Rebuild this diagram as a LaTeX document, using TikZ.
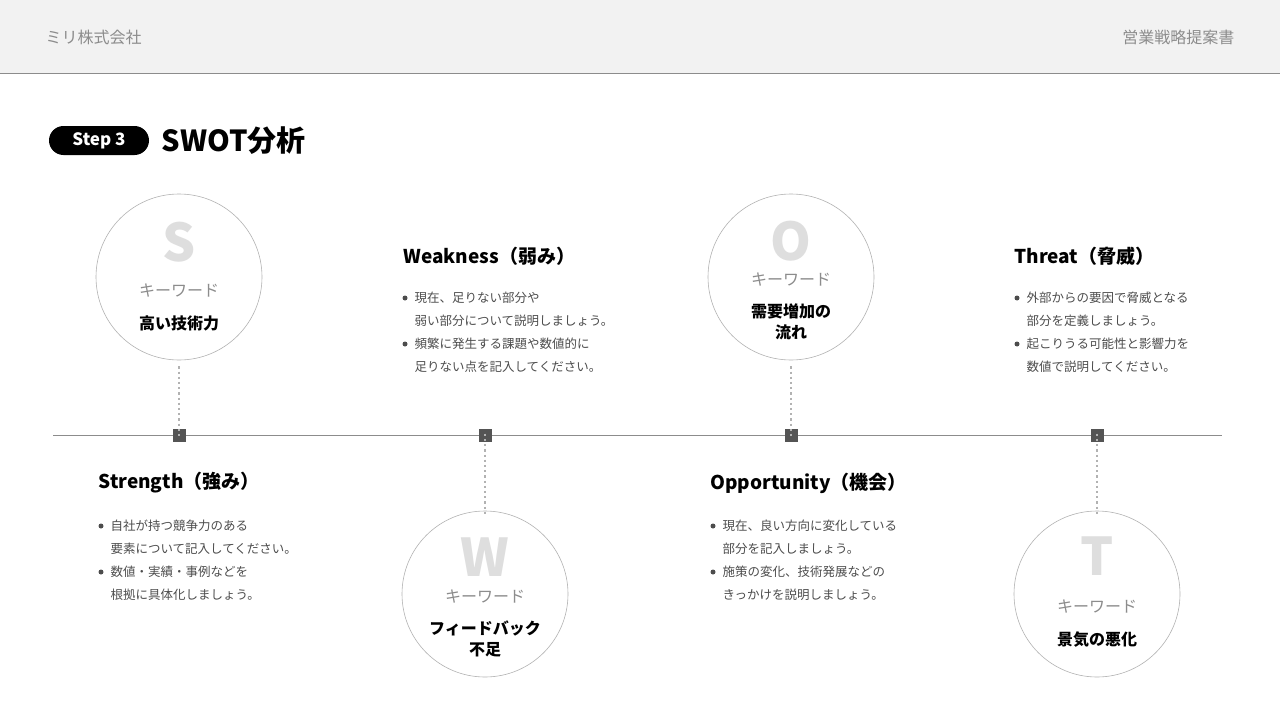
\documentclass[tikz,border=0pt]{standalone}
\usepackage{fontspec}
\setmainfont{Noto Sans CJK JP}
\newfontfamily\jpb{Noto Sans CJK JP}[BoldFont={* Bold}]
\begin{document}
\begin{tikzpicture}[x=1pt,y=-1pt,
  circ/.style={circle,draw=black!30,line width=0.6pt,fill=white,minimum size=166pt,inner sep=0pt},
  sq/.style={fill=black!67,minimum size=13pt,inner sep=0pt},
  big/.style={text=black!13,font=\fontsize{52}{52}\selectfont\bfseries},
  kw/.style={text=black!45,font=\fontsize{16}{16}\selectfont},
  kwb/.style={text=black,font=\fontsize{16}{21}\selectfont\bfseries,align=center},
  ttl/.style={anchor=west,font=\fontsize{19}{19}\selectfont\bfseries},
  bt/.style={anchor=west,text=black!70,font=\fontsize{12.5}{12.5}\selectfont},
  dot/.style={circle,fill=black!70,inner sep=0pt,minimum size=5pt},
  dl/.style={black!30,line width=2.2pt,dash pattern=on 2.2pt off 3pt}]
\useasboundingbox (0,0) rectangle (1280,720);
\fill[black!5] (0,0) rectangle (1280,73);
\draw[black!45,line width=0.8pt] (0,73) -- (1280,73);
\node[anchor=west,text=black!45,font=\fontsize{16}{16}\selectfont] (co) at (42,37) {ミリ株式会社};
\node[anchor=east,text=black!45,font=\fontsize{16}{16}\selectfont] (doc) at (1238,37) {営業戦略提案書};
\node[fill=black,rounded corners=14.5pt,minimum width=100pt,minimum height=29pt,text=white,font=\fontsize{17}{17}\selectfont\bfseries] (step) at (99,140.5) {Step 3};
\node[anchor=west,font=\fontsize{29}{29}\selectfont\bfseries] (title) at (158,141) {SWOT分析};
\coordinate (L) at (53,435); \coordinate (R) at (1222,435);
\draw[black!45,line width=1pt] (L) -- (R);
\foreach \n/\x in {s/179,w/485,o/791,t/1097} \node[sq] (q\n) at (\x,435) {};
\node[circ] (cs) at (179,277) {};
\node[circ] (cw) at (485,594) {};
\node[circ] (co2) at (791,277) {};
\node[circ] (ct) at (1097,594) {};
\draw[dl] (cs.south) ++(0,6) -- ([yshift=-8pt]qs.north);
\draw[dl] (co2.south) ++(0,6) -- ([yshift=-8pt]qo.north);
\draw[dl] ([yshift=8pt]qw.south) -- ([yshift=-6pt]cw.north);
\draw[dl] ([yshift=8pt]qt.south) -- ([yshift=-6pt]ct.north);
% S
\node[big] (ls) at (179,242) {S};
\node[kw] (ks) at (179,291) {キーワード};
\node[kwb] (bs) at (179,323) {高い技術力};
% W
\node[big] (lw) at (485,557) {W};
\node[kw] (kw2) at (485,597) {キーワード};
\node[kwb] (bw) at (485,639) {フィードバック\\不足};
% O
\node[big] (lo) at (791,241) {O};
\node[kw] (ko) at (791,280) {キーワード};
\node[kwb] (bo) at (791,322) {需要増加の\\流れ};
% T
\node[big] (lt) at (1097,556) {T};
\node[kw] (kt) at (1097,607) {キーワード};
\node[kwb] (bt2) at (1097,640) {景気の悪化};
% texts
\node[ttl] (ws) at (400,256) {Weakness（弱み）};
\node[ttl] (ss) at (95,483) {Strength（強み）};
\node[ttl] (os) at (707,483) {Opportunity（機会）};
\node[ttl] (ts) at (1011,256) {Threat（脅威）};
\foreach \x/\y/\a/\b/\c/\d in {
 405/298/{現在、足りない部分や}/{弱い部分について説明しましょう。}/{頻繁に発生する課題や数値的に}/{足りない点を記入してください。},
 101/526/{自社が持つ競争力のある}/{要素について記入してください。}/{数値・実績・事例などを}/{根拠に具体化しましょう。},
 713/526/{現在、良い方向に変化している}/{部分を記入しましょう。}/{施策の変化、技術発展などの}/{きっかけを説明しましょう。},
 1017/298/{外部からの要因で脅威となる}/{部分を定義しましょう。}/{起こりうる可能性と影響力を}/{数値で説明してください。}}{
  \node[dot] at (\x,\y) {};
  \node[bt] at (\x+6,\y) {\a};
  \node[bt] at (\x+6,\y+23) {\b};
  \node[dot] at (\x,\y+46) {};
  \node[bt] at (\x+6,\y+46) {\c};
  \node[bt] at (\x+6,\y+69) {\d};
}
\end{tikzpicture}
\end{document}
